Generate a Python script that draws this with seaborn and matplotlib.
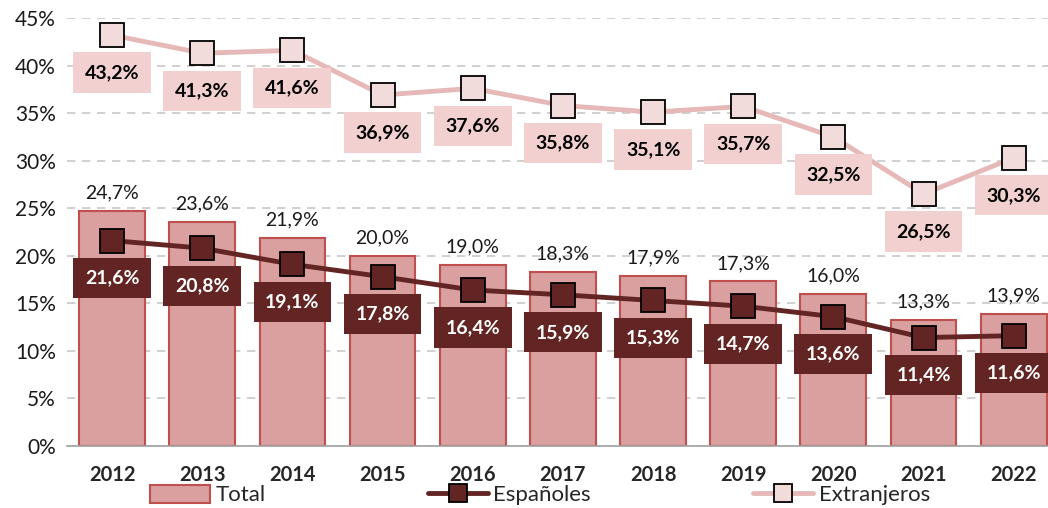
import matplotlib
matplotlib.use("Agg")
import matplotlib.pyplot as plt
import seaborn as sns
import pandas as pd
from matplotlib.ticker import FuncFormatter

years = ["2012", "2013", "2014", "2015", "2016", "2017", "2018", "2019", "2020", "2021", "2022"]
total = [24.7, 23.6, 21.9, 20.0, 19.0, 18.3, 17.9, 17.3, 16.0, 13.3, 13.9]
espanoles = [21.6, 20.8, 19.1, 17.8, 16.4, 15.9, 15.3, 14.7, 13.6, 11.4, 11.6]
extranjeros = [43.2, 41.3, 41.6, 36.9, 37.6, 35.8, 35.1, 35.7, 32.5, 26.5, 30.3]

sns.set_theme(style="white")
plt.rcParams["font.family"] = ["Lato", "DejaVu Sans"]

df = pd.DataFrame({"year": years, "idx": range(len(years)), "total": total,
                   "esp": espanoles, "ext": extranjeros})

def fmt(v):
    return f"{v:.1f}%".replace(".", ",")

fig = plt.figure(figsize=(10.48, 5.08), dpi=100)
ax = fig.add_axes([67 / 1048, 1 - 446 / 508, 981 / 1048, 428 / 508])

sns.barplot(data=df, x="year", y="total", color="#DA9F9F", saturation=1,
            edgecolor="#C0504D", linewidth=1.5, width=0.73, ax=ax, label="Total")

sns.lineplot(data=df, x="idx", y="esp", color="#632523", linewidth=3.5,
             marker="s", markersize=17, markerfacecolor="#632523",
             markeredgecolor="black", markeredgewidth=1.3, ax=ax, label="Españoles")
sns.lineplot(data=df, x="idx", y="ext", color="#E6B9B8", linewidth=3.5,
             marker="s", markersize=17, markerfacecolor="#F2DCDB",
             markeredgecolor="black", markeredgewidth=1.3, ax=ax, label="Extranjeros")

for i in range(len(years)):
    ax.annotate(fmt(total[i]), (i, total[i]), xytext=(0, 13), textcoords="offset points",
                ha="center", va="center", fontsize=14, color="#1a1a1a")
    ax.annotate(fmt(espanoles[i]), (i, espanoles[i]), xytext=(0, -27), textcoords="offset points",
                ha="center", va="center", fontsize=14, fontweight="bold", color="white",
                bbox=dict(boxstyle="square,pad=0.6", fc="#632523", ec="none"))
    ax.annotate(fmt(extranjeros[i]), (i, extranjeros[i]), xytext=(0, -27), textcoords="offset points",
                ha="center", va="center", fontsize=14, fontweight="bold", color="black",
                bbox=dict(boxstyle="square,pad=0.6", fc="#F2D0D0", ec="none"))

ax.set_ylim(0, 45)
ax.set_xlim(-0.5, 10.38)
ax.set_yticks(range(0, 46, 5))
ax.yaxis.set_major_formatter(FuncFormatter(lambda v, p: f"{int(v)}%"))
ax.yaxis.grid(True, linestyle=(0, (5, 4)), color="#C8C8C8", linewidth=1.2)
ax.set_axisbelow(True)
ax.set_xlabel("")
ax.set_ylabel("")
for s in ["top", "right", "left"]:
    ax.spines[s].set_visible(False)
ax.spines["bottom"].set_color("#A0A0A0")
ax.spines["bottom"].set_linewidth(1.2)
ax.tick_params(axis="y", labelsize=15, length=0, pad=8, labelcolor="#1a1a1a")
ax.tick_params(axis="x", labelsize=14.5, length=0, pad=14)
for t in ax.get_xticklabels():
    t.set_fontweight("bold")

ax.get_legend().remove()
handles, labels = ax.get_legend_handles_labels()
order = [labels.index("Total"), labels.index("Españoles"), labels.index("Extranjeros")]
fig.legend([handles[k] for k in order], [labels[k] for k in order], loc="center",
           bbox_to_anchor=(0.515, 1 - 495 / 508), ncol=3, frameon=False, fontsize=16,
           columnspacing=7.3, handlelength=2.7, handletextpad=0.25, markerscale=0.75,
           handleheight=0.9)

fig.savefig("out.png", dpi=100)
